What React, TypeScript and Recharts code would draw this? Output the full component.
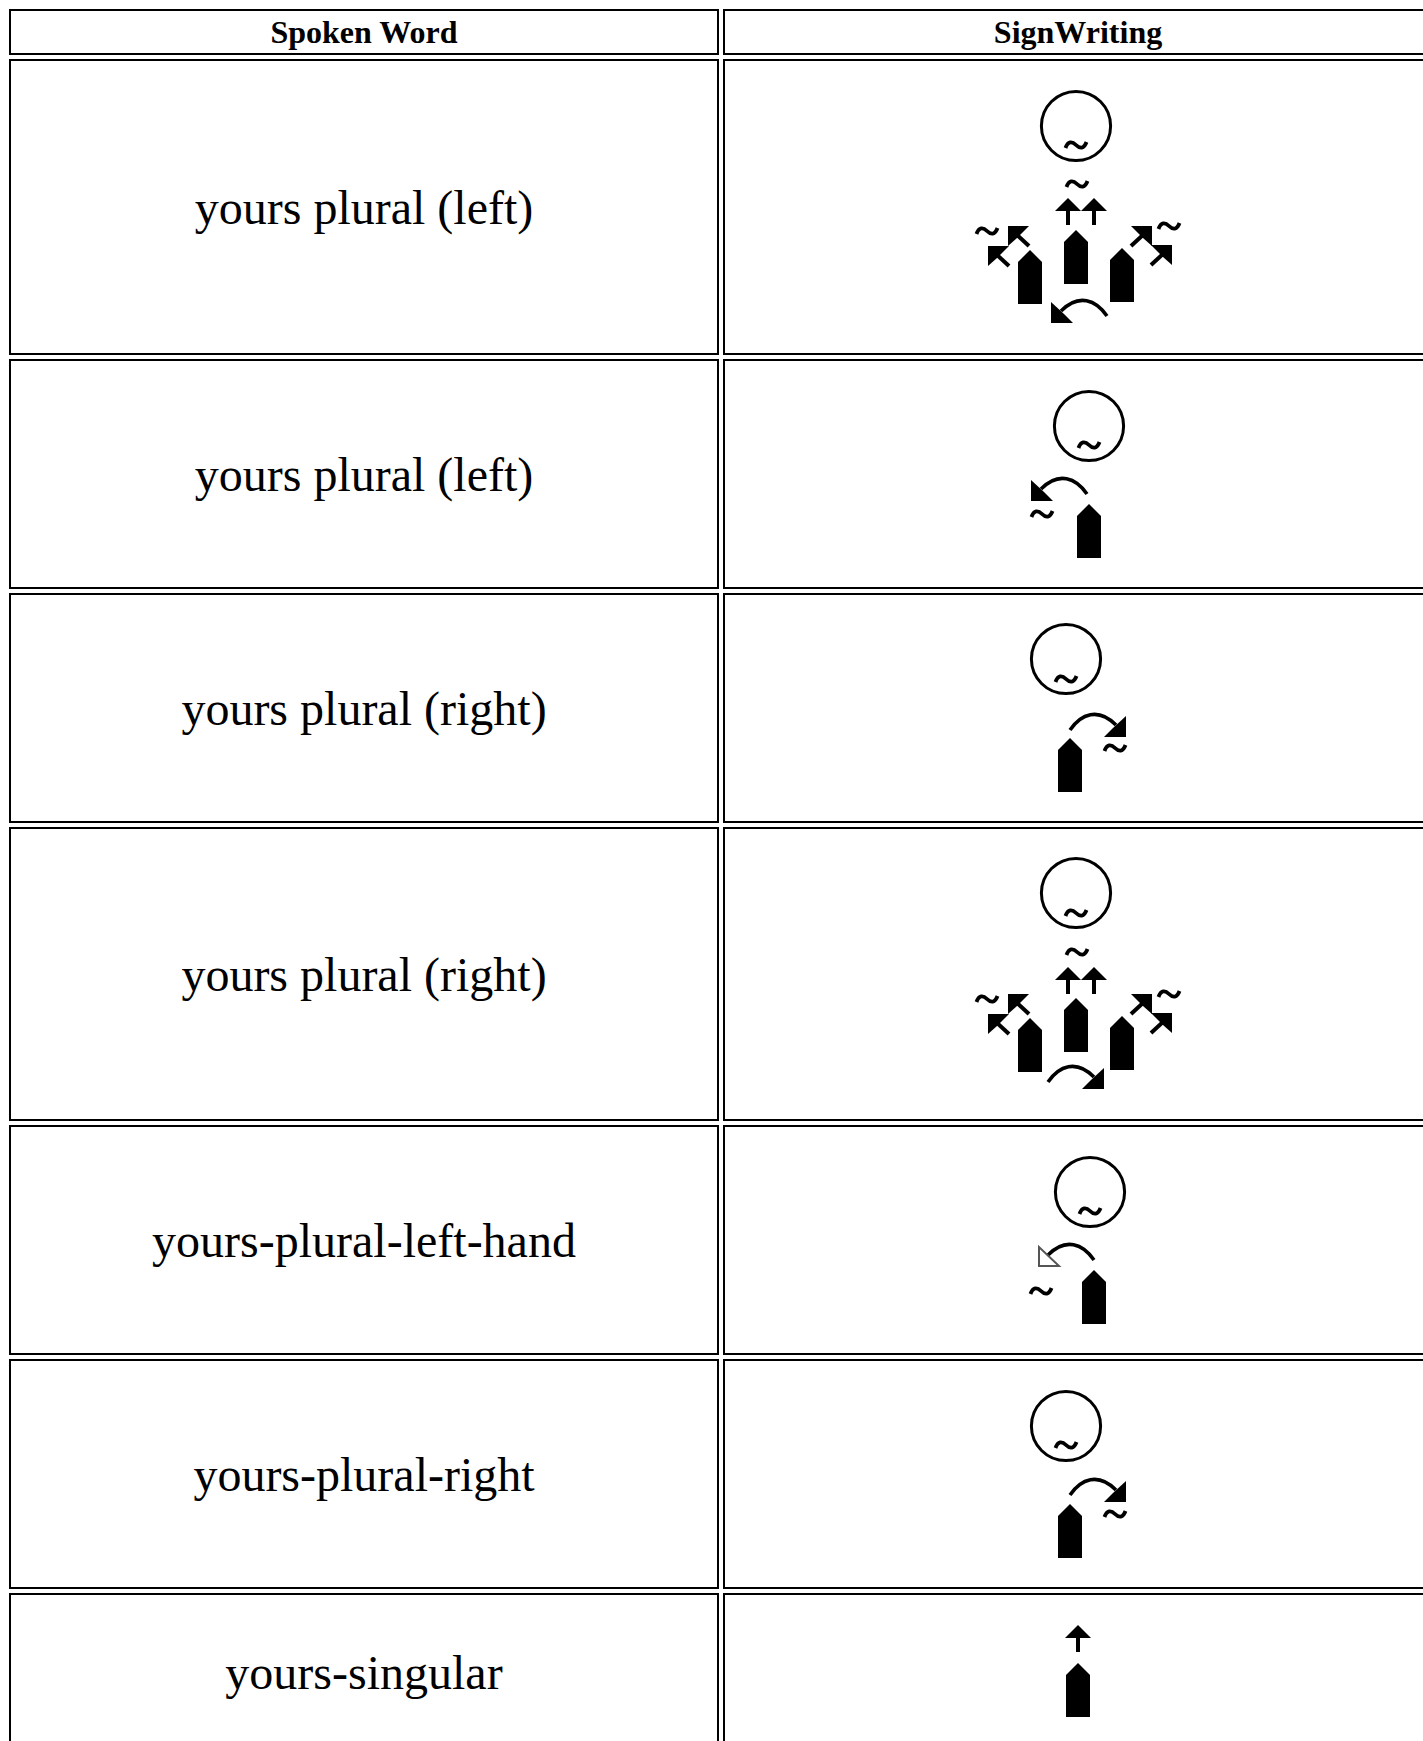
import { ScatterChart, Scatter, XAxis, YAxis, ReferenceArea } from "recharts";

const WIDTH = 1423;
const HEIGHT = 1741;

// table grid in image units
const headers = ["Spoken Word", "SignWriting"];
const words = [
  "yours plural (left)",
  "yours plural (left)",
  "yours plural (right)",
  "yours plural (right)",
  "yours-plural-left-hand",
  "yours-plural-right",
  "yours-singular",
];
const columnEdges = [
  [10, 718],
  [724, 1432],
];
const rowEdges = [
  [10, 54],
  [60, 354],
  [360, 588],
  [594, 822],
  [828, 1120],
  [1126, 1354],
  [1360, 1588],
  [1594, 1750],
];

// sign symbols
const faces = [
  { x: 1076, y: 126 },
  { x: 1089, y: 426 },
  { x: 1066, y: 659 },
  { x: 1076, y: 893 },
  { x: 1090, y: 1192 },
  { x: 1066, y: 1426 },
];
const tildes = [
  { x: 1076, y: 145 },
  { x: 1077, y: 184 },
  { x: 987, y: 231 },
  { x: 1169, y: 226 },
  { x: 1089, y: 445 },
  { x: 1042, y: 514 },
  { x: 1066, y: 679 },
  { x: 1115, y: 748 },
  { x: 1076, y: 913 },
  { x: 1077, y: 952 },
  { x: 987, y: 999 },
  { x: 1169, y: 994 },
  { x: 1090, y: 1211 },
  { x: 1041, y: 1291 },
  { x: 1066, y: 1445 },
  { x: 1115, y: 1514 },
];
const hands = [
  { x: 1076, y: 230 },
  { x: 1030, y: 250 },
  { x: 1122, y: 248 },
  { x: 1089, y: 504 },
  { x: 1070, y: 738 },
  { x: 1076, y: 998 },
  { x: 1030, y: 1018 },
  { x: 1122, y: 1016 },
  { x: 1094, y: 1270 },
  { x: 1070, y: 1504 },
  { x: 1078, y: 1663 },
];
const upArrows = [
  { x: 1068, y: 198 },
  { x: 1094, y: 198 },
  { x: 1068, y: 967 },
  { x: 1094, y: 967 },
  { x: 1078, y: 1625 },
];
const leftDiagonals = [
  { x: 1008, y: 226 },
  { x: 988, y: 246 },
  { x: 1008, y: 994 },
  { x: 988, y: 1014 },
];
const rightDiagonals = [
  { x: 1152, y: 226 },
  { x: 1172, y: 245 },
  { x: 1152, y: 994 },
  { x: 1172, y: 1013 },
];
const curvesLeft = [
  { x: 1051, y: 323 },
  { x: 1031, y: 501 },
];
const curvesRight = [
  { x: 1126, y: 737 },
  { x: 1104, y: 1089 },
  { x: 1126, y: 1502 },
];
const hollowCurves = [{ x: 1038, y: 1267 }];

const INK = "#000000";

function Face({ cx, cy }: any) {
  return <circle cx={cx} cy={cy} r={34.6} fill="none" stroke={INK} strokeWidth={3} />;
}

function Tilde({ cx, cy }: any) {
  return (
    <path
      transform={`translate(${cx} ${cy})`}
      d="M-10.5 3 C-8 -4 -4 -4 0 0 C4 4 8 4 10.5 -3"
      fill="none"
      stroke={INK}
      strokeWidth={3.8}
    />
  );
}

function Hand({ cx, cy }: any) {
  return <path transform={`translate(${cx} ${cy})`} d="M0 0 L12 12 L12 54 L-12 54 L-12 12 Z" fill={INK} />;
}

function UpArrow({ cx, cy }: any) {
  return (
    <g transform={`translate(${cx} ${cy})`}>
      <path d="M0 0 L13 13 L-13 13 Z" fill={INK} />
      <rect x={-2} y={12} width={4} height={15} fill={INK} />
    </g>
  );
}

function Diagonal({ cx, cy, flip }: any) {
  return (
    <g transform={`translate(${cx} ${cy}) scale(${flip ? -1 : 1} 1)`}>
      <path d="M0 0 L21 0 L12 9 L9 12 L0 20 Z" fill={INK} />
      <path d="M8 8 L21 20" fill="none" stroke={INK} strokeWidth={4} />
    </g>
  );
}

function Curve({ cx, cy, flip, hollow }: any) {
  return (
    <g transform={`translate(${cx} ${cy}) scale(${flip ? -1 : 1} 1)`}>
      <path d="M56 -7 C45 -23 28 -30 10 -12" fill="none" stroke={INK} strokeWidth={3.6} />
      {hollow ? (
        <path d="M1 -1 L21 -1 L1 -20 Z" fill="#ffffff" stroke="#555555" strokeWidth={2} />
      ) : (
        <path d="M0 0 L22 0 L13 -9 L0 -21 Z" fill={INK} />
      )}
    </g>
  );
}

const cellLabel = (value: string, isHeader: boolean) => ({
  value,
  position: "center" as const,
  fill: INK,
  fontFamily: "Liberation Serif",
  fontSize: isHeader ? 32 : 48,
  fontWeight: isHeader ? 700 : 400,
});

export default function App() {
  return (
    <div style={{ position: "absolute", left: 0, top: 0, width: WIDTH, height: HEIGHT, overflow: "hidden", background: "#fff" }}>
      <ScatterChart width={WIDTH} height={HEIGHT} margin={{ top: 0, right: 0, bottom: 0, left: 0 }}>
        <XAxis type="number" dataKey="x" domain={[0, WIDTH]} hide />
        <YAxis type="number" dataKey="y" domain={[0, HEIGHT]} reversed hide />
        {rowEdges.map((row, r) =>
          columnEdges.map((col, c) => {
            const text = r === 0 ? headers[c] : c === 0 ? words[r - 1] : undefined;
            return (
              <ReferenceArea
                key={`${r}-${c}`}
                x1={col[0]}
                x2={col[1]}
                y1={row[0]}
                y2={row[1]}
                fill="none"
                fillOpacity={0}
                stroke={INK}
                strokeOpacity={1}
                strokeWidth={2}
                ifOverflow="visible"
                label={text ? cellLabel(text, r === 0) : undefined}
              />
            );
          })
        )}
        <Scatter data={faces} isAnimationActive={false} shape={(p: any) => <Face {...p} />} />
        <Scatter data={tildes} isAnimationActive={false} shape={(p: any) => <Tilde {...p} />} />
        <Scatter data={hands} isAnimationActive={false} shape={(p: any) => <Hand {...p} />} />
        <Scatter data={upArrows} isAnimationActive={false} shape={(p: any) => <UpArrow {...p} />} />
        <Scatter data={leftDiagonals} isAnimationActive={false} shape={(p: any) => <Diagonal {...p} />} />
        <Scatter data={rightDiagonals} isAnimationActive={false} shape={(p: any) => <Diagonal {...p} flip />} />
        <Scatter data={curvesLeft} isAnimationActive={false} shape={(p: any) => <Curve {...p} />} />
        <Scatter data={curvesRight} isAnimationActive={false} shape={(p: any) => <Curve {...p} flip />} />
        <Scatter data={hollowCurves} isAnimationActive={false} shape={(p: any) => <Curve {...p} hollow />} />
      </ScatterChart>
    </div>
  );
}
